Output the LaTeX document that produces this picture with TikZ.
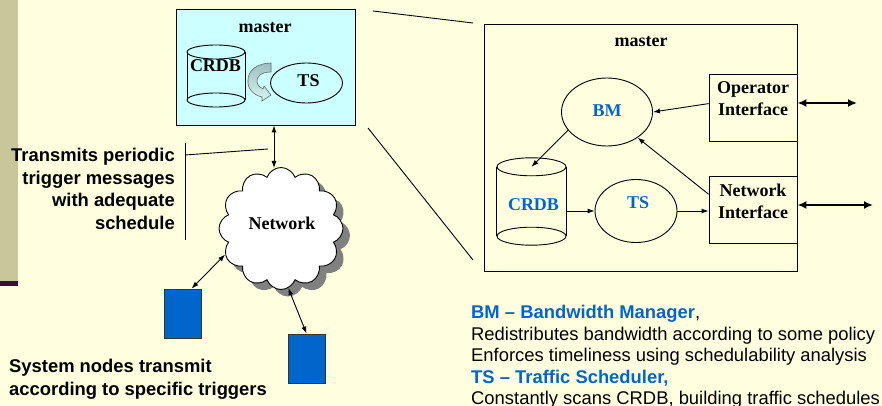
\documentclass[tikz,border=0pt]{standalone}
\usepackage{fontspec}
\setmainfont{Liberation Serif}
\newfontfamily\arialf{Liberation Sans}
\usetikzlibrary{shapes.symbols,shapes.geometric,shadows,arrows.meta}
\definecolor{bgc}{HTML}{FFFFE0}
\definecolor{sidec}{HTML}{C8C79A}
\definecolor{purpc}{HTML}{3F0A40}
\definecolor{cyanf}{HTML}{CCFFFF}
\definecolor{bluet}{HTML}{0066CC}
\definecolor{bluer}{HTML}{0066CC}
\definecolor{curvef}{HTML}{9CBFBF}
\definecolor{curvel}{HTML}{D8F4F4}
\begin{document}
\begin{tikzpicture}[x=1pt,y=-1pt,
  ln/.style={line width=0.9pt, draw=black},
  boxn/.style={draw=black, line width=0.9pt, inner sep=0pt, rectangle},
  elln/.style={draw=black, line width=0.9pt, inner sep=0pt, ellipse},
  ttl/.style={inner sep=0pt, font=\bfseries\fontsize{18}{22}\selectfont},
  bttl/.style={ttl, text=bluet},
  sans/.style={inner sep=0pt, font=\arialf\bfseries\fontsize{18.4}{22.6}\selectfont},
  arr/.style={ln, -{Latex[length=7pt,width=5pt]}},
  darr/.style={ln, {Latex[length=7pt,width=5pt]}-{Latex[length=7pt,width=5pt]}},
  tarr/.style={line width=2.4pt, {Latex[length=9pt,width=8pt]}-{Latex[length=9pt,width=8pt]}},
  blk/.style={draw=black!80, line width=0.9pt, fill=bluer, inner sep=0pt, minimum width=37pt, minimum height=49pt}
]
\useasboundingbox (0,0) rectangle (882,406);
\fill[bgc] (0,0) rectangle (882,406);
\fill[sidec] (0,0) rectangle (18,281);
\fill[purpc] (0,281) rectangle (18,286);

% ---- left master box
\node[boxn, fill=cyanf, minimum width=179pt, minimum height=116pt] (mL) at (265.5,67) {};
\node[ttl] (mLt) at (265,28) {master};
% cylinder CRDB (left)
\draw[ln] (187,52) -- (187,100) (245,52) -- (245,100);
\draw[ln] (216,52) ellipse [x radius=29pt, y radius=7pt];
\draw[ln] (216,100) ellipse [x radius=29pt, y radius=7pt];
\node[ttl] (crdbLt) at (215.5,66) {CRDB};
% TS (left)
\node[elln, minimum width=72pt, minimum height=40pt] (tsL) at (306.5,83) {};
\node[ttl] (tsLt) at (308.5,80.5) {TS};
% curved arrow
\draw[top color=curvef, bottom color=curvel, draw=black!60, line width=0.6pt]
  (271,63) -- (271,72) .. controls (262,72) and (256,76) .. (257,82)
  .. controls (258,86) and (260,88) .. (263,89) -- (264,86) -- (271,95)
  -- (262,101) -- (262,97) .. controls (253,95) and (247,88) .. (248,80)
  .. controls (248,70) and (258,63) .. (271,63) -- cycle;

% ---- cloud
\node[cloud, cloud puffs=12, cloud puff arc=140, aspect=1, draw=black, line width=0.9pt,
      fill=white, inner sep=0pt, minimum width=124pt, minimum height=122pt,
      drop shadow={shadow xshift=7pt, shadow yshift=-7pt, fill=black!50, opacity=1}] (net) at (281,228.5) {};
\node[ttl] (nett) at (282,223) {Network};

% master <-> network
\coordinate (a1) at (274,168);
\draw[darr] (a1 |- mL.south) -- (a1);

% callout
\coordinate (c1) at (185,143);
\coordinate (c2) at (185,240);
\coordinate (c3) at (185,155);
\coordinate (c4) at (268,149);
\draw[ln] (c1) -- (c2);
\draw[ln] (c3) -- (c4);
\node[sans, anchor=north east, align=right] (tx1) at (175,148)
  {Transmits periodic\\trigger messages\\with adequate\\schedule};

% system nodes
\node[blk] (n1) at (182.5,313.5) {};
\node[blk] (n2) at (306.5,358.5) {};
\draw[darr] (net.205) -- (n1.70);
\draw[darr] (net.277) -- (n2.north);
\node[sans, anchor=north west, align=left, font=\arialf\bfseries\fontsize{18.4}{23}\selectfont] (tx2) at (9,359)
  {System nodes transmit\\according to specific triggers};

% ---- zoom lines
\coordinate (z1) at (373,11);
\coordinate (z2) at (473,23);
\coordinate (z3) at (368,128);
\coordinate (z4) at (473,260);
\draw[ln] (z1) -- (z2);
\draw[ln] (z3) -- (z4);

% ---- right master box
\node[boxn, minimum width=313pt, minimum height=247pt] (mR) at (640.5,147.5) {};
\node[ttl] (mRt) at (641,42) {master};
\node[elln, minimum width=91pt, minimum height=68pt] (bm) at (607,112) {};
\node[bttl] (bmt) at (607,111) {BM};
\node[elln, minimum width=82pt, minimum height=63pt] (ts) at (636,211) {};
\node[bttl] (tst) at (638,203) {TS};
% cylinder CRDB (right)
\node[inner sep=0pt, minimum width=69pt, minimum height=69pt] (crdb) at (531.5,201.5) {};
\draw[ln] (crdb.north west) -- (crdb.south west) (crdb.north east) -- (crdb.south east);
\draw[ln] (crdb.north) ellipse [x radius=34.5pt, y radius=9pt];
\draw[ln] (crdb.south) ellipse [x radius=34.5pt, y radius=9pt];
\node[bttl] (crdbt) at (533.5,205) {CRDB};
% interfaces
\node[boxn, minimum width=88pt, minimum height=67pt] (op) at (753,107.5) {};
\node[ttl, align=center] (opt) at (753,99) {Operator\\Interface};
\node[boxn, minimum width=88pt, minimum height=67pt] (ni) at (753,209.5) {};
\node[ttl, align=center] (nit) at (753,201) {Network\\Interface};
% arrows inside
\draw[arr] (op.175) -- (bm.east);
\draw[arr] (ni.161) -- (bm.-40);
\draw[arr] (bm.205) -- (crdb.north);
\draw[arr] (crdb.east |- ts.west) -- (ts.west);
\draw[arr] (ts.east) -- (ts.east -| ni.west);
% external thick arrows
\coordinate (oe) at (857,103);
\coordinate (ne) at (873,205);
\draw[tarr] (oe -| op.east) -- (oe);
\draw[tarr] (ne -| ni.east) -- (ne);

% ---- description
\node[anchor=north west, inner sep=0pt, align=left, font=\arialf\fontsize{18.4}{21.5}\selectfont] (desc) at (471,305)
  {{\color{bluet}\bfseries BM – Bandwidth Manager},\\
   Redistributes bandwidth according to some policy\\
   Enforces timeliness using schedulability analysis\\
   {\color{bluet}\bfseries TS – Traffic Scheduler,}\\
   Constantly scans CRDB, building traffic schedules};
\end{tikzpicture}
\end{document}
